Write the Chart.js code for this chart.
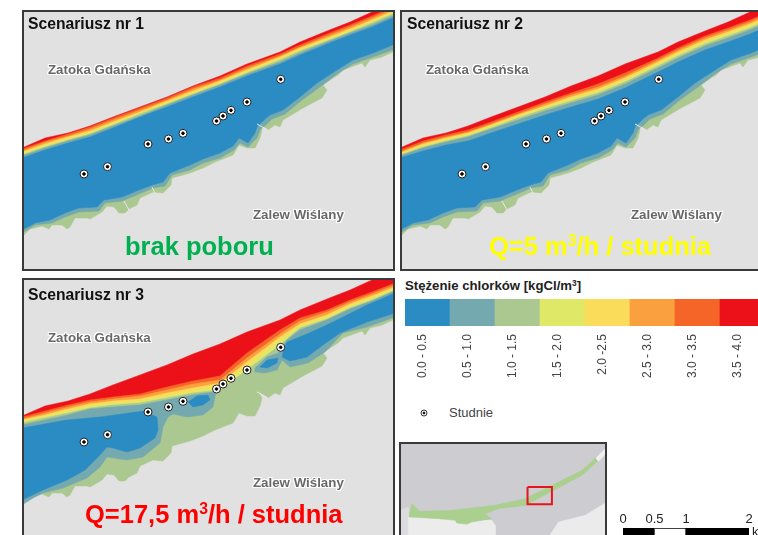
<!DOCTYPE html>
<html>
<head>
<meta charset="utf-8">
<script src="https://cdn.jsdelivr.net/npm/chart.js@4"></script>
<style>
  html, body { margin: 0; padding: 0; width: 758px; height: 535px; overflow: hidden; background: #fff; }
  body { position: relative; font-family: "Liberation Sans", Arial, sans-serif; }
  canvas { position: absolute; }
  .map { background: #e1e1e1; outline: 2px solid #3a3a3a; outline-offset: -2px; filter: blur(0.4px); }
  .txt { position: absolute; white-space: nowrap; line-height: 1; }
  .head { font-weight: bold; font-size: 15.7px; color: #111; }
  .place { font-weight: bold; font-size: 13.3px; color: #686868;
    text-shadow: 1px 0 #fff, -1px 0 #fff, 0 1px #fff, 0 -1px #fff, 1px 1px #fff, -1px -1px #fff, 1px -1px #fff, -1px 1px #fff; }
  .big { font-weight: bold; font-size: 25.5px; }
  sup { font-size: 62%; line-height: 0; vertical-align: 0.55em; }
</style>
</head>
<body>
<canvas id="map1" class="map" width="373" height="261" style="left:22px;top:10px"></canvas>
<canvas id="map2" class="map" width="373" height="261" style="left:400px;top:10px"></canvas>
<canvas id="map3" class="map" width="373" height="261" style="left:22px;top:278px"></canvas>
<canvas id="legend" width="360" height="90" style="left:405px;top:299px"></canvas>
<canvas id="wellKey" width="20" height="20" style="left:414px;top:403px"></canvas>
<canvas id="inset" class="map" width="208" height="100" style="left:399px;top:442px;background:#cdccd1"></canvas>
<canvas id="scaleBar" width="148" height="42" style="left:610px;top:500px"></canvas>

<div class="txt head" style="left:28px;top:16px">Scenariusz nr 1</div>
<div class="txt head" style="left:407px;top:16px">Scenariusz nr 2</div>
<div class="txt head" style="left:28px;top:287px">Scenariusz nr 3</div>
<div class="txt place" style="left:48px;top:63px">Zatoka Gdańska</div>
<div class="txt place" style="left:426px;top:63px">Zatoka Gdańska</div>
<div class="txt place" style="left:48px;top:331px">Zatoka Gdańska</div>
<div class="txt place" style="left:253px;top:208px">Zalew Wiślany</div>
<div class="txt place" style="left:631px;top:208px">Zalew Wiślany</div>
<div class="txt place" style="left:253px;top:476px">Zalew Wiślany</div>
<div class="txt big" style="left:125px;top:234px;color:#00b050">brak poboru</div>
<div class="txt big" style="left:489px;top:234px;color:#ffff00">Q=5 m<sup>3</sup>/h / studnia</div>
<div class="txt big" style="left:85px;top:502px;color:#ff0000">Q=17,5 m<sup>3</sup>/h / studnia</div>
<div class="txt" style="left:405px;top:279px;font-weight:bold;font-size:13.2px;color:#222">Stężenie chlorków [kgCl/m<sup>3</sup>]</div>
<div class="txt" style="left:449px;top:406px;font-size:13px;color:#444">Studnie</div>
<div class="txt" style="left:752px;top:525px;font-size:13px;color:#222">km</div>

<script>
// concentration classes
const classLabels = ['0.0 - 0.5', '0.5 - 1.0', '1.0 - 1.5', '1.5 - 2.0', '2.0 -2.5', '2.5 - 3.0', '3.0 - 3.5', '3.5 - 4.0'];
const classColors = ['#2b8cc4', '#74a9b0', '#abc890', '#e0e868', '#fbdc5a', '#fba03e', '#f56527', '#ec1118'];
const classWidth = [1, 1, 1, 1, 1, 1, 1, 1];

// wells
const wellX = [84, 107.5, 148, 168.5, 183, 216.5, 223, 231, 247, 280.7];
const wellY = [174, 166.7, 144, 139, 133.3, 121, 116, 110.3, 102, 79.3];

// north shore, x positions shared by all contours
const northX = [22, 45, 68, 90, 113, 140, 167, 193, 220, 247, 280, 300, 327, 350, 372, 395];
const coastY = [148, 138, 133, 126, 117, 107, 97, 86, 76, 64, 52, 42, 31, 22, 12, 2];

// south shore of the spit
const southX = [22, 30, 42, 49, 52, 62, 67, 70, 75, 87, 90, 102, 107, 114, 119, 125, 129, 137, 140, 153, 163, 171, 172, 190, 203, 215, 233, 239, 247, 255, 260, 262, 258, 268, 275, 280, 283, 303, 322, 327, 323, 333, 338, 343, 362, 365, 370, 382, 395];
const southY = [237, 229, 226, 229, 225, 225, 229, 227, 218, 218, 219, 212, 206, 207, 213, 213, 209, 205, 198, 192, 193, 185, 178, 173, 168, 162, 155, 145, 148, 148, 138, 130, 123, 130, 125, 127, 120, 108, 98, 90, 85, 78, 75, 70, 63, 67, 60, 57, 51];
const tealSouthX = [22, 35, 52, 65, 79, 99, 105, 122, 139, 153, 165, 172, 190, 203, 220, 234, 240, 248, 257, 260, 267, 272, 285, 302, 320, 337, 353, 373, 395];
const tealSouthY = [233, 225, 223, 217, 212, 211, 203, 201, 194, 188, 186, 175, 170, 163, 158, 150, 143, 147, 138, 130, 124, 119, 114, 100, 87, 74, 64, 57, 49];
const blueSouthX = [22, 35, 50, 65, 79, 97, 104, 122, 139, 152, 163, 170, 190, 203, 220, 233, 239, 248, 255, 257, 265, 270, 283, 300, 317, 337, 353, 373, 395];
const blueSouthY = [230, 223, 220, 213, 208, 207, 200, 197, 190, 185, 182, 173, 165, 159, 153, 146, 138, 143, 133, 127, 119, 115, 110, 97, 83, 70, 60, 53, 44];

// scenario 1 contours along northX
const s1Red = [149, 141, 134, 127, 118, 108, 98, 87, 78, 66, 54, 45, 34, 25, 16, 6];
const s1Deep = [151, 142, 136, 129, 120, 110, 100, 89, 80, 68, 56, 47, 36, 27, 18, 8];
const s1Orange = [152, 144, 137, 131, 122, 112, 101, 91, 81, 70, 57, 48, 38, 29, 20, 10];
const s1Yellow = [154, 145, 139, 132, 123, 113, 103, 93, 83, 71, 59, 50, 39, 31, 21, 12];
const s1Lime = [155, 147, 140, 134, 125, 114, 104, 94, 84, 73, 60, 51, 41, 32, 23, 13];
const s1Green = [156, 148, 141, 135, 126, 116, 105, 95, 85, 74, 62, 53, 42, 33, 25, 15];
const s1Teal = [158, 150, 143, 137, 128, 117, 107, 97, 87, 76, 64, 55, 44, 35, 27, 17];

// scenario 2 contours
const s2Red = [150, 141, 135, 130, 122, 112, 102, 93, 84, 73, 58, 48, 36, 28, 20, 10];
const s2Deep = [152, 143, 137, 132, 124, 114, 104, 95, 87, 76, 60, 50, 38, 30, 22, 12];
const s2Orange = [153, 144, 138, 133, 125, 115, 106, 97, 89, 78, 62, 52, 40, 32, 24, 14];
const s2Yellow = [154, 146, 140, 135, 126, 117, 107, 99, 91, 80, 64, 54, 42, 34, 26, 16];
const s2Lime = [155, 147, 141, 136, 128, 118, 109, 101, 93, 82, 66, 56, 44, 36, 28, 18];
const s2Green = [156, 148, 142, 137, 129, 120, 111, 103, 95, 84, 68, 58, 46, 38, 30, 20];
const s2Teal = [158, 151, 145, 141, 133, 124, 115, 107, 99, 88, 72, 62, 50, 42, 34, 24];

// scenario 3 contours
const s3Red = [149, 143, 137, 132, 129, 126, 119, 113, 108, 85, 62, 50, 42, 32, 24, 15];
const s3Deep = [151, 145, 139, 134, 131, 128, 122, 116, 112, 90, 66, 53, 44, 34, 26, 17];
const s3Orange = [152, 147, 141, 136, 133, 131, 125, 120, 115, 94, 69, 56, 47, 36, 28, 19];
const s3Yellow = [153, 148, 143, 138, 135, 133, 128, 123, 118, 98, 72, 58, 49, 38, 30, 20];
const s3Lime = [155, 150, 145, 140, 137, 135, 130, 125, 122, 102, 77, 60, 51, 40, 32, 22];

// scenario 3 pools
const tealWestX = [22, 45, 68, 90, 113, 140, 167, 193, 205, 216, 213, 203, 187, 173, 168, 163, 160, 143, 127, 107, 100, 87, 63, 43, 33, 22];
const tealWestY = [157, 152, 147, 141, 139, 137, 132, 127, 125, 124, 139, 147, 149, 146, 149, 159, 175, 189, 192, 189, 199, 210, 220, 225, 230, 237];
const blueWestX = [22, 67, 100, 143, 157, 158, 155, 140, 127, 113, 107, 98, 85, 67, 43, 22];
const blueWestY = [160, 152, 149, 143, 149, 162, 170, 180, 184, 180, 179, 189, 202, 212, 222, 232];
const blueMidX = [188, 197, 208, 210, 203, 193];
const blueMidY = [134, 128, 127, 132, 137, 139];
const tealEastX = [255, 267, 278, 287, 300, 327, 350, 372, 395, 395, 367, 343, 325, 308, 290, 282, 277, 265, 255];
const tealEastY = [100, 89, 85, 72, 62, 52, 41, 33, 23, 49, 59, 65, 84, 95, 99, 92, 102, 105, 104];
const blueEastX = [282, 284, 287, 307, 333, 367, 395, 395, 367, 340, 323, 307, 290];
const blueEastY = [89, 80, 74, 66, 54, 37, 25, 45, 54, 65, 77, 89, 93];
const bluePoolX = [260, 267, 278, 277, 267];
const bluePoolY = [99, 92, 90, 95, 100];

// small cuts across the spit
const cutX = [[124, 129], [152, 155], [257, 268]];
const cutY = [[201, 210], [187, 193], [124, 130]];

// locator map
const insetSpitX = [50, 75, 170, 300, 390, 470, 560, 600, 607, 560, 470, 420, 390, 310, 270, 290, 230, 215, 185, 180, 130, 42];
const insetSpitY = [235, 258, 255, 240, 220, 180, 135, 98, 108, 150, 198, 225, 240, 250, 265, 280, 290, 297, 293, 285, 280, 275];
const insetLandWestX = [40, 290, 300, 300, 40];
const insetLandWestY = [275, 285, 300, 350, 350];
const insetLandEastX = [450, 490, 570, 635, 635, 450];
const insetLandEastY = [350, 290, 270, 230, 350, 350];
const insetNorthStripX = [600, 635, 635, 610];
const insetNorthStripY = [100, 65, 80, 108];
const insetWestStripX = [15, 40, 40, 15];
const insetWestStripY = [255, 245, 350, 350];
const insetBoxX = [397, 470, 470, 397, 397];
const insetBoxY = [185, 185, 237, 237, 185];

// scale bar
const scaleTicks = [0, 0.5, 1, 2];
const scaleParts = [[0, 0.5], [0.5, 1], [1, 2]];
const scalePartColors = ['#000', '#fff', '#000'];

Chart.defaults.font.family = '"Liberation Sans", Arial, sans-serif';
Chart.defaults.animation = false;
Chart.defaults.responsive = false;
Chart.defaults.plugins.legend.display = false;
Chart.defaults.plugins.tooltip.enabled = false;

function toPoints(xs, ys) {
  return xs.map((x, i) => ({ x: x, y: ys[i] }));
}

function polygon(xs, ys, color) {
  const pts = toPoints(xs, ys);
  pts.push(pts[0]);
  return { type: 'line', data: pts, fill: 'shape', backgroundColor: color, borderColor: color, borderWidth: 0.5, pointRadius: 0, tension: 0 };
}

function line(xs, ys, color, width) {
  return { type: 'line', data: toPoints(xs, ys), fill: false, borderColor: color, borderWidth: width, pointRadius: 0, tension: 0 };
}

function dots(xs, ys, radius, fill, edge) {
  return { type: 'line', data: toPoints(xs, ys), showLine: false, pointRadius: radius, pointBackgroundColor: fill, pointBorderColor: edge, pointBorderWidth: 1 };
}

// region from one contour down to a southern edge
function band(topY, botX, botY, color) {
  return polygon(northX.concat(botX.slice().reverse()), topY.concat(botY.slice().reverse()), color);
}

function wells() {
  return [dots(wellX, wellY, 4, '#fff', '#222'), dots(wellX, wellY, 1.3, '#000', '#000')];
}

function stack(tops) {
  // tops go red, deep orange, orange, yellow, lime
  // only the green layer reaches the shore, otherwise the warm colours fringe it
  const list = [band(coastY, blueSouthX, blueSouthY, classColors[7])];
  tops.forEach((top, i) => {
    const last = i === tops.length - 1;
    list.push(band(top, last ? southX : blueSouthX, last ? southY : blueSouthY, classColors[6 - i]));
  });
  return list;
}

function flatMap(id, xMin, xMax, yMin, yMax, datasets) {
  return new Chart(document.getElementById(id), {
    type: 'line',
    // first dataset is painted last, so turn the list round
    data: { datasets: datasets.slice().reverse() },
    options: {
      layout: { padding: 0, autoPadding: false },
      scales: {
        x: { type: 'linear', display: false, min: xMin, max: xMax },
        y: { type: 'linear', display: false, min: yMin, max: yMax, reverse: true }
      }
    }
  });
}

function cuts() {
  return cutX.map((xs, i) => line(xs, cutY[i], '#e8e8e8', 1));
}

const scenario1 = stack([s1Red, s1Deep, s1Orange, s1Yellow, s1Lime]).concat([
  band(s1Green, tealSouthX, tealSouthY, classColors[1]),
  band(s1Teal, blueSouthX, blueSouthY, classColors[0])
], cuts(), wells());
const scenario2 = stack([s2Red, s2Deep, s2Orange, s2Yellow, s2Lime]).concat([
  band(s2Green, tealSouthX, tealSouthY, classColors[1]),
  band(s2Teal, blueSouthX, blueSouthY, classColors[0])
], cuts(), wells());
const scenario3 = stack([s3Red, s3Deep, s3Orange, s3Yellow, s3Lime]).concat([
  polygon(tealWestX, tealWestY, classColors[1]),
  polygon(tealEastX, tealEastY, classColors[1]),
  polygon(blueWestX, blueWestY, classColors[0]),
  polygon(blueMidX, blueMidY, classColors[0]),
  polygon(blueEastX, blueEastY, classColors[0]),
  polygon(bluePoolX, bluePoolY, classColors[0]),
  line(cutX[2], cutY[2], '#e8e8e8', 1)
], wells());

flatMap('map1', 22, 395, 10, 271, scenario1);
flatMap('map2', 22, 395, 10, 271, scenario2);
flatMap('map3', 22, 395, 10, 271, scenario3);

flatMap('inset', 12, 635, 50, 350, [
  polygon(insetWestStripX, insetWestStripY, '#dcdce0'),
  polygon(insetLandWestX, insetLandWestY, '#ececec'),
  polygon(insetLandEastX, insetLandEastY, '#ebebeb'),
  polygon(insetNorthStripX, insetNorthStripY, '#f0f0f0'),
  polygon(insetSpitX, insetSpitY, '#abcf8e'),
  line(insetBoxX, insetBoxY, '#e8141c', 2)
]);

flatMap('wellKey', 0, 2, 0, 2, [
  dots([1], [1], 3, '#fff', '#333'),
  dots([1], [1], 0.9, '#000', '#000')
]);

// colour key, one bar per class
new Chart(document.getElementById('legend'), {
  type: 'bar',
  data: {
    labels: classLabels,
    datasets: [{ data: classWidth, backgroundColor: classColors, barPercentage: 1, categoryPercentage: 1 }]
  },
  options: {
    layout: { padding: 0 },
    scales: {
      x: {
        grid: { display: false },
        border: { display: false },
        afterFit: s => { s.height = 63; },
        ticks: { minRotation: 90, maxRotation: 90, autoSkip: false, padding: 0, labelOffset: -5, color: '#444', font: { size: 12 } }
      },
      y: { display: false, min: 0, max: 1 }
    }
  }
});

// scale bar
new Chart(document.getElementById('scaleBar'), {
  type: 'bar',
  data: {
    labels: ['km'],
    datasets: scaleParts.map((part, i) => ({
      data: [part],
      backgroundColor: scalePartColors[i],
      borderColor: '#000',
      borderWidth: 1,
      barPercentage: 1,
      categoryPercentage: 1,
      grouped: false
    }))
  },
  options: {
    indexAxis: 'y',
    layout: { padding: { left: 13, right: 9, top: 4 } },
    scales: {
      x: {
        type: 'linear',
        position: 'top',
        min: 0,
        max: 2,
        grid: { display: false },
        border: { display: false },
        afterBuildTicks: s => { s.ticks = scaleTicks.map(v => ({ value: v })); },
        afterFit: s => { s.height = 24; },
        ticks: { autoSkip: false, maxRotation: 0, padding: -7, color: '#222', font: { size: 13 }, callback: v => String(v) }
      },
      y: { display: false }
    }
  }
});
</script>
</body>
</html>
